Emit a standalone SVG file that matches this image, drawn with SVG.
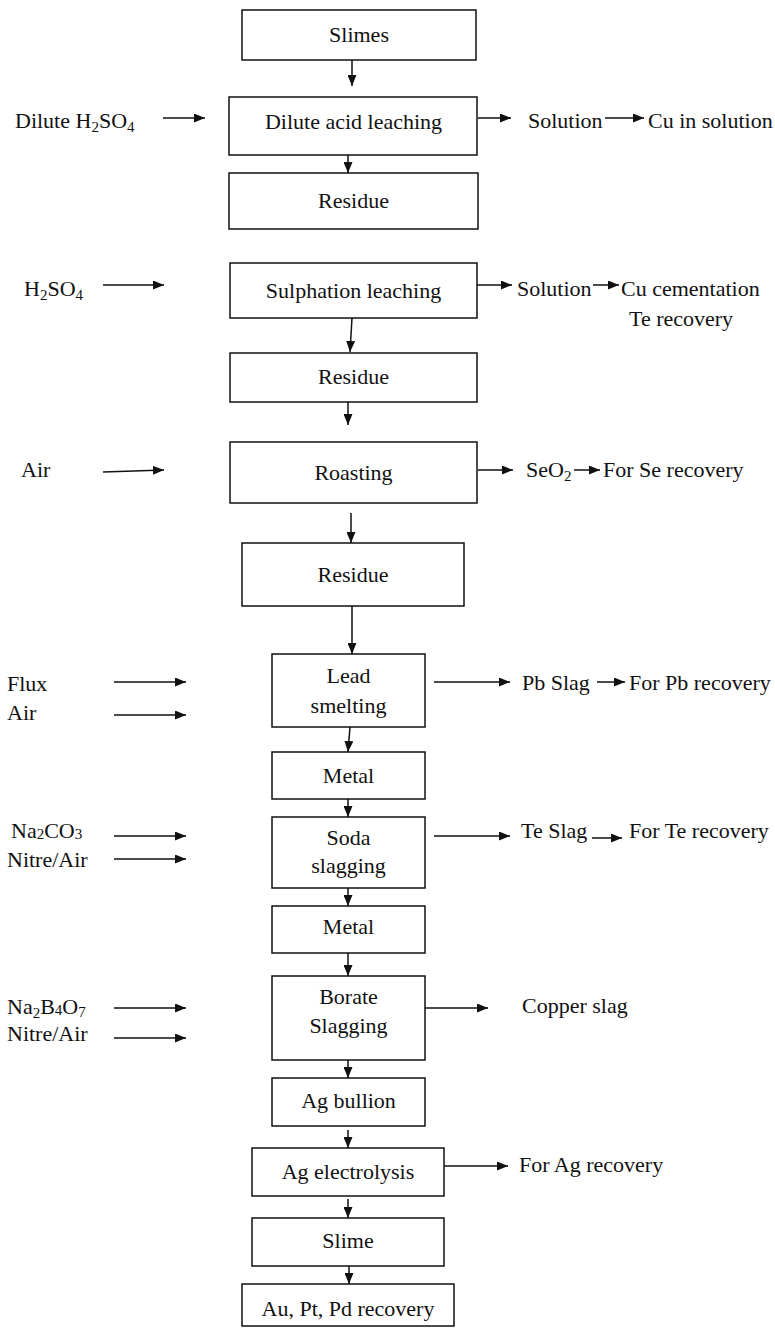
<svg xmlns="http://www.w3.org/2000/svg" width="775" height="1328" viewBox="0 0 775 1328">
<style>
text{font-family:"Liberation Serif","Times New Roman",serif;font-size:22px;fill:#111}
.c{text-anchor:middle}
.sub{font-size:15px}
rect{fill:#fff;stroke:#111;stroke-width:1.5}
line{stroke:#111;stroke-width:1.5;marker-end:url(#ah)}
</style>
<defs>
<marker id="ah" markerUnits="userSpaceOnUse" markerWidth="11" markerHeight="9" refX="11" refY="4.5" orient="auto">
<path d="M0,0 L11,4.5 L0,9 z" fill="#111"/>
</marker>
</defs>
<rect width="775" height="1328" style="fill:#fff;stroke:none"/>
<g id="connectors">
<line x1="352" y1="60" x2="352" y2="86"/>
<line x1="163" y1="118" x2="205" y2="118"/>
<line x1="478" y1="118" x2="511" y2="118"/>
<line x1="605" y1="118" x2="644" y2="118"/>
<line x1="348" y1="155" x2="348" y2="173"/>
<line x1="103" y1="285" x2="164" y2="285"/>
<line x1="477" y1="285" x2="512" y2="285"/>
<line x1="593" y1="285" x2="619" y2="285"/>
<line x1="352" y1="318" x2="350" y2="352"/>
<line x1="348" y1="402" x2="348" y2="425"/>
<line x1="103" y1="472" x2="164" y2="470"/>
<line x1="478" y1="470" x2="513" y2="470"/>
<line x1="574" y1="470" x2="600" y2="470"/>
<line x1="351" y1="513" x2="351" y2="543"/>
<line x1="352" y1="606" x2="352" y2="654"/>
<line x1="114" y1="682" x2="186" y2="682"/>
<line x1="114" y1="715" x2="186" y2="715"/>
<line x1="434" y1="682" x2="510" y2="682"/>
<line x1="597" y1="682" x2="625" y2="682"/>
<line x1="350" y1="727" x2="348" y2="752"/>
<line x1="348" y1="799" x2="348" y2="817"/>
<line x1="114" y1="836" x2="186" y2="836"/>
<line x1="114" y1="859" x2="186" y2="859"/>
<line x1="434" y1="836" x2="510" y2="836"/>
<line x1="592" y1="838" x2="622" y2="838"/>
<line x1="348" y1="888" x2="348" y2="906"/>
<line x1="348" y1="953" x2="348" y2="976"/>
<line x1="114" y1="1008" x2="186" y2="1008"/>
<line x1="114" y1="1038" x2="186" y2="1038"/>
<line x1="425" y1="1008" x2="488" y2="1008"/>
<line x1="348" y1="1060" x2="348" y2="1078"/>
<line x1="348" y1="1130" x2="348" y2="1148"/>
<line x1="444" y1="1166" x2="508" y2="1166"/>
<line x1="348" y1="1199" x2="348" y2="1218"/>
<line x1="349" y1="1266" x2="349" y2="1284"/>
</g>
<g id="slimes"><rect x="242" y="10" width="234" height="50"/><text class="c" x="359" y="42">Slimes</text></g>
<g id="dilute-acid-leaching"><rect x="229" y="97" width="248" height="58"/><text class="c" x="353.5" y="129">Dilute acid leaching</text></g>
<g id="residue1"><rect x="229" y="173" width="249" height="56"/><text class="c" x="353.5" y="208">Residue</text></g>
<g id="sulphation-leaching"><rect x="230" y="263" width="247" height="55"/><text class="c" x="353.5" y="298">Sulphation leaching</text></g>
<g id="residue2"><rect x="230" y="353" width="247" height="49"/><text class="c" x="353.5" y="384">Residue</text></g>
<g id="roasting"><rect x="230" y="442" width="247" height="61"/><text class="c" x="353.5" y="480">Roasting</text></g>
<g id="residue3"><rect x="242" y="543" width="222" height="63"/><text class="c" x="353" y="582">Residue</text></g>
<g id="lead-smelting"><rect x="272" y="654" width="153" height="73"/><text class="c" x="348.5" y="683">Lead</text><text class="c" x="348.5" y="713">smelting</text></g>
<g id="metal1"><rect x="272" y="752" width="153" height="47"/><text class="c" x="348.5" y="783">Metal</text></g>
<g id="soda-slagging"><rect x="272" y="817" width="153" height="71"/><text class="c" x="348.5" y="845">Soda</text><text class="c" x="348.5" y="873">slagging</text></g>
<g id="metal2"><rect x="272" y="906" width="153" height="47"/><text class="c" x="348.5" y="934">Metal</text></g>
<g id="borate-slagging"><rect x="272" y="976" width="153" height="84"/><text class="c" x="348.5" y="1004">Borate</text><text class="c" x="348.5" y="1033">Slagging</text></g>
<g id="ag-bullion"><rect x="272" y="1078" width="153" height="48"/><text class="c" x="348.5" y="1108">Ag bullion</text></g>
<g id="ag-electrolysis"><rect x="252" y="1148" width="192" height="48"/><text class="c" x="348" y="1179">Ag electrolysis</text></g>
<g id="slime"><rect x="252" y="1218" width="192" height="48"/><text class="c" x="348" y="1248">Slime</text></g>
<g id="au-pt-pd-recovery"><rect x="242" y="1284" width="212" height="42"/><text class="c" x="348" y="1316">Au, Pt, Pd recovery</text></g>
<g id="labels">
<text x="15" y="128">Dilute H<tspan class="sub" dy="4">2</tspan><tspan dy="-4">SO</tspan><tspan class="sub" dy="4">4</tspan></text>
<text x="528" y="128">Solution</text>
<text x="648" y="128">Cu in solution</text>
<text x="24" y="296">H<tspan class="sub" dy="4">2</tspan><tspan dy="-4">SO</tspan><tspan class="sub" dy="4">4</tspan></text>
<text x="517" y="296">Solution</text>
<text x="621" y="296">Cu cementation</text>
<text x="629" y="326">Te recovery</text>
<text x="21" y="477">Air</text>
<text x="526" y="477">SeO<tspan class="sub" dy="4">2</tspan></text>
<text x="603" y="477">For Se recovery</text>
<text x="7" y="691">Flux</text>
<text x="7" y="720">Air</text>
<text x="522" y="690">Pb Slag</text>
<text x="629" y="690">For Pb recovery</text>
<text x="11" y="838">Na<tspan class="sub" dy="1">2</tspan><tspan dy="-1">CO</tspan><tspan class="sub" dy="1">3</tspan></text>
<text x="7" y="867">Nitre/Air</text>
<text x="521" y="838">Te Slag</text>
<text x="629" y="838">For Te recovery</text>
<text x="7" y="1014">Na<tspan class="sub" dy="4">2</tspan><tspan dy="-4">B</tspan><tspan class="sub" dy="1">4</tspan><tspan dy="-1">O</tspan><tspan class="sub" dy="3">7</tspan></text>
<text x="7" y="1041">Nitre/Air</text>
<text x="522" y="1013">Copper slag</text>
<text x="519" y="1172">For Ag recovery</text>
</g>
</svg>
